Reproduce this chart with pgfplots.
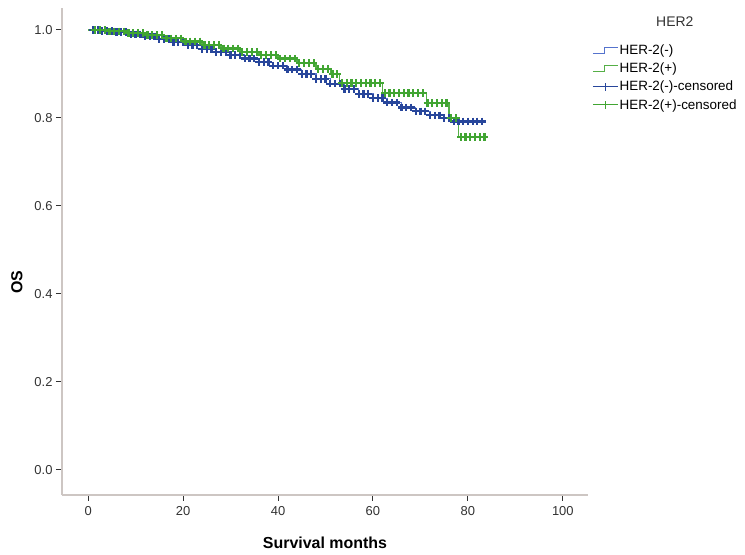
\documentclass[border=0pt]{standalone}
\usepackage{fontspec}
\setmainfont{Liberation Sans}
\usepackage{pgfplots}
\pgfplotsset{compat=1.18}
\definecolor{negline}{RGB}{85,115,205}
\definecolor{negcens}{RGB}{40,70,155}
\definecolor{posline}{RGB}{85,175,70}
\definecolor{poscens}{RGB}{65,165,50}
\definecolor{axisgray}{RGB}{205,198,195}
\definecolor{ticktext}{RGB}{50,50,50}

\begin{document}
\begin{tikzpicture}
\path[use as bounding box] (-62bp,-60bp) rectangle (683bp,495bp);
\begin{axis}[
  scale only axis,
  width=526bp, height=487bp,
  xmin=-5.5, xmax=105.3,
  ymin=-0.057, ymax=1.05,
  axis x line=bottom, axis y line=left,
  axis line style={axisgray, line width=1.2bp, -},
  xtick={0,20,...,100},
  ytick={0,0.2,...,1.0},
  tick align=outside,
  major tick length=6bp,
  tick style={ticktext, line width=1bp},
  every tick label/.append style={font=\fontsize{13}{15}\selectfont, text=ticktext},
  xticklabel style={yshift=-2bp},
  /pgf/number format/assume math mode=true,
  yticklabel style={/pgf/number format/.cd, fixed, fixed zerofill, precision=1},
  xlabel={\textbf{Survival months}},
  ylabel={\textbf{OS}},
  xlabel style={at={(axis description cs:0.5,0)}, yshift=-48bp, anchor=center, font=\fontsize{16}{18}\selectfont},
  ylabel style={at={(axis description cs:-0.0856,0.437)}, anchor=center, font=\fontsize{16}{18}\selectfont},
  clip=false,
  legend style={at={(rel axis cs:1.008,0.927)}, anchor=north west, draw=none, fill=none,
    font=\fontsize{13.5}{15}\selectfont, row sep=4.5bp, inner sep=0pt,
    nodes={inner sep=1.2bp}},
  legend cell align=left,
]
\addplot[const plot, negline, line width=1.2bp,
  legend image code/.code={\draw[negline, line width=1bp] (0bp,-2.5bp) -- (12bp,-2.5bp) -- (12bp,3.5bp) -- (25bp,3.5bp);}]
coordinates {(0,1.000)(3,0.998)(6,0.995)(9,0.990)(12,0.985)(15,0.979)(18,0.972)(21,0.965)(24,0.957)(27,0.950)(30,0.943)(33,0.935)(36,0.927)(39,0.919)(42,0.910)(45,0.900)(48,0.889)(51,0.878)(54,0.866)(57,0.855)(60,0.845)(63,0.835)(66,0.824)(69,0.815)(72,0.806)(75,0.800)(77,0.792)(83.5,0.792)};
\addlegendentry{HER-2(-)}
\addplot[const plot, posline, line width=1.2bp,
  legend image code/.code={\draw[posline, line width=1bp] (0bp,-2.5bp) -- (12bp,-2.5bp) -- (12bp,3.5bp) -- (25bp,3.5bp);}]
coordinates {(0,1.000)(4,0.997)(8,0.993)(12,0.988)(16,0.981)(20,0.974)(24,0.966)(28,0.958)(32,0.950)(36,0.943)(40,0.935)(44,0.925)(48,0.912)(51,0.900)(53,0.880)(62,0.857)(71.2,0.834)(76,0.800)(78,0.757)(83.5,0.757)};
\addlegendentry{HER-2(+)}
\addplot[only marks, mark=+, mark size=3.8bp, negcens, mark options={line width=2.2bp},
  legend image code/.code={\draw[negcens, line width=1bp] (0bp,0bp) -- (25bp,0bp); \draw[negcens, line width=1bp] (12.5bp,-4bp) -- (12.5bp,4bp);}]
coordinates {(1,1.000)(2,1.000)
(3,.998)(4,.998)(5,.998)(6,.995)(7,.995)(8,.995)
(9,.990)(10,.990)(11,.990)(12,.985)(13,.985)(14,.985)
(15,.979)(16,.979)(17,.979)(18,.972)(19,.972)(20,.972)
(21,.965)(22,.965)(23,.965)(24,.957)(25,.957)(26,.957)
(27,.950)(28,.950)(29,.950)(30,.943)(31,.943)(32,.943)
(33,.935)(34,.935)(35,.935)(36,.927)(37,.927)(38,.927)
(39,.919)(40,.919)(41,.919)(42,.910)(43,.910)(44,.910)
(45,.900)(46,.900)(47,.900)(48,.889)(49,.889)(50,.889)
(51,.878)(52,.878)(53,.878)(54,.866)(55,.866)(56,.866)
(57,.855)(58,.855)(59,.855)(60,.845)(61,.845)(62,.845)
(63,.835)(64,.835)(65,.835)(66,.824)(67,.824)(68,.824)
(69,.815)(70,.815)(71,.815)(72,.806)(73,.806)(74,.806)
(75,.800)(76,.800)
(77,.792)(78,.792)(79,.792)(80,.792)(81,.792)(82,.792)(83,.792)};
\addlegendentry{HER-2(-)-censored}
\addplot[only marks, mark=+, mark size=3.8bp, poscens, mark options={line width=2.2bp},
  legend image code/.code={\draw[poscens, line width=1bp] (0bp,0bp) -- (25bp,0bp); \draw[poscens, line width=1bp] (12.5bp,-4bp) -- (12.5bp,4bp);}]
coordinates {(1.5,1.000)(2.5,1.000)(3.5,1.000)
(4.5,.997)(5.5,.997)(6.5,.997)(7.5,.997)
(8.5,.993)(9.5,.993)(10.5,.993)(11.5,.993)
(12.5,.988)(13.5,.988)(14.5,.988)(15.5,.988)
(16.5,.981)(17.5,.981)(18.5,.981)(19.5,.981)
(20.5,.974)(21.5,.974)(22.5,.974)(23.5,.974)
(24.5,.966)(25.5,.966)(26.5,.966)(27.5,.966)
(28.5,.958)(29.5,.958)(30.5,.958)(31.5,.958)
(32.5,.950)(33.5,.950)(34.5,.950)(35.5,.950)
(36.5,.943)(37.5,.943)(38.5,.943)(39.5,.943)
(40.5,.935)(41.5,.935)(42.5,.935)(43.5,.935)
(44.5,.925)(45.5,.925)(46.5,.925)(47.5,.925)
(48.5,.912)(49.5,.912)(50.5,.912)
(51.5,.900)(52.5,.900)
(53.5,.880)(54.5,.880)(55.5,.880)(56.5,.880)(57.5,.880)(58.5,.880)(59.5,.880)(60.5,.880)(61.5,.880)
(62.5,.857)(63.5,.857)(64.5,.857)(65.5,.857)(66.5,.857)(67.5,.857)(68.5,.857)(69.5,.857)(70.5,.857)
(71.5,.834)(72.5,.834)(73.5,.834)(74.5,.834)(75.5,.834)
(76.5,.800)(77.5,.800)
(78.5,.757)(79.5,.757)(80.5,.757)(81.5,.757)(82.5,.757)(83.5,.757)};
\addlegendentry{HER-2(+)-censored}
\node[font=\fontsize{14}{16}\selectfont, anchor=center, text=ticktext] at (rel axis cs:1.165,0.971) {HER2};
\end{axis}
\end{tikzpicture}
\end{document}
